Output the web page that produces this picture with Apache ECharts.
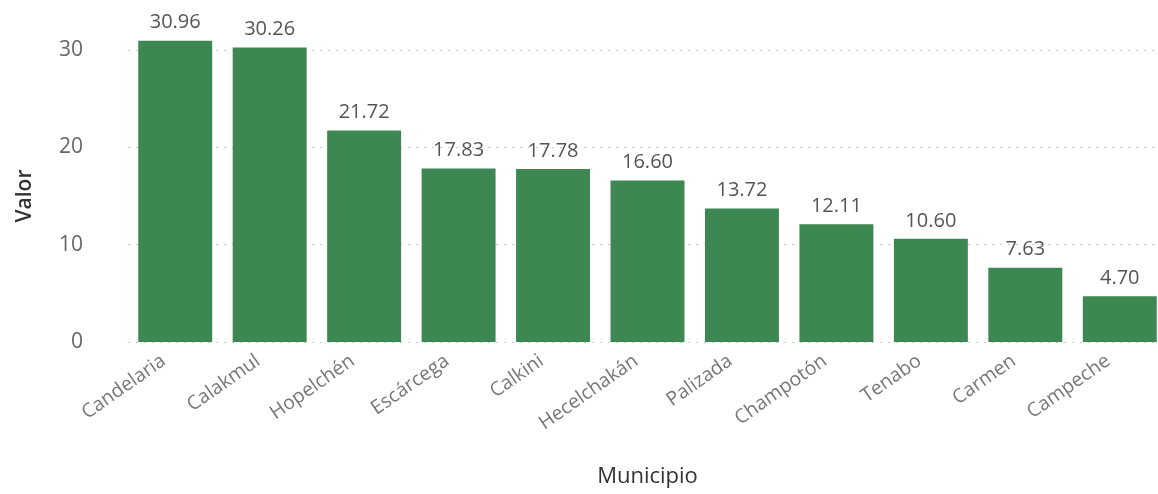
<!DOCTYPE html>
<html>
<head>
<meta charset="utf-8">
<script src="https://cdn.jsdelivr.net/npm/echarts@6/dist/echarts.min.js"></script>
<style>
html,body{margin:0;padding:0;background:#fff;}
#chart{width:1158px;height:494px;}
</style>
</head>
<body>
<div id="chart"></div>
<script>
const categories = ["Candelaria","Calakmul","Hopelchén","Escárcega","Calkini","Hecelchakán","Palizada","Champotón","Tenabo","Carmen","Campeche"];
const values = [30.96,30.26,21.72,17.83,17.78,16.60,13.72,12.11,10.60,7.63,4.70];
const yTicks = [0,10,20,30];

const chart = echarts.init(document.getElementById('chart'));
const font = '"Open Sans", "Noto Sans", sans-serif';
chart.setOption({
  animation:false,
  textStyle:{fontFamily:font},
  grid:{left:128,width:1039,top:50,height:292,containLabel:false,outerBoundsMode:'none'},
  xAxis:{
    type:'category',
    data:categories,
    name:'Municipio',
    nameLocation:'middle',
    nameGap:124,
    nameTextStyle:{fontSize:22,color:'#333',fontFamily:font,fontWeight:500},
    axisLine:{show:false},
    axisTick:{show:false},
    axisLabel:{rotate:35,fontSize:19.5,color:'#777',margin:9,fontFamily:font,interval:0,padding:[0,14,0,0]}
  },
  yAxis:{
    type:'value',
    min:yTicks[0],
    max:yTicks[yTicks.length-1],
    interval:10,
    name:'Valor',
    nameLocation:'middle',
    nameGap:92,
    nameTextStyle:{fontSize:21,color:'#333',fontFamily:font,fontWeight:600},
    axisLine:{show:false},
    axisTick:{show:false},
    axisLabel:{fontSize:21,color:'#666',margin:45,fontFamily:font},
    splitLine:{show:true,lineStyle:{color:'#c8c8c8',type:[2,6],width:1}}
  },
  series:[{
    type:'bar',
    data:values,
    clip:false,
    barCategoryGap:'21.7%',
    itemStyle:{color:'#3D8752'},
    label:{show:true,position:'top',distance:8,fontSize:20,color:'#555',fontFamily:font,
      formatter:p=>p.value.toFixed(2)}
  }]
});
</script>
</body>
</html>
